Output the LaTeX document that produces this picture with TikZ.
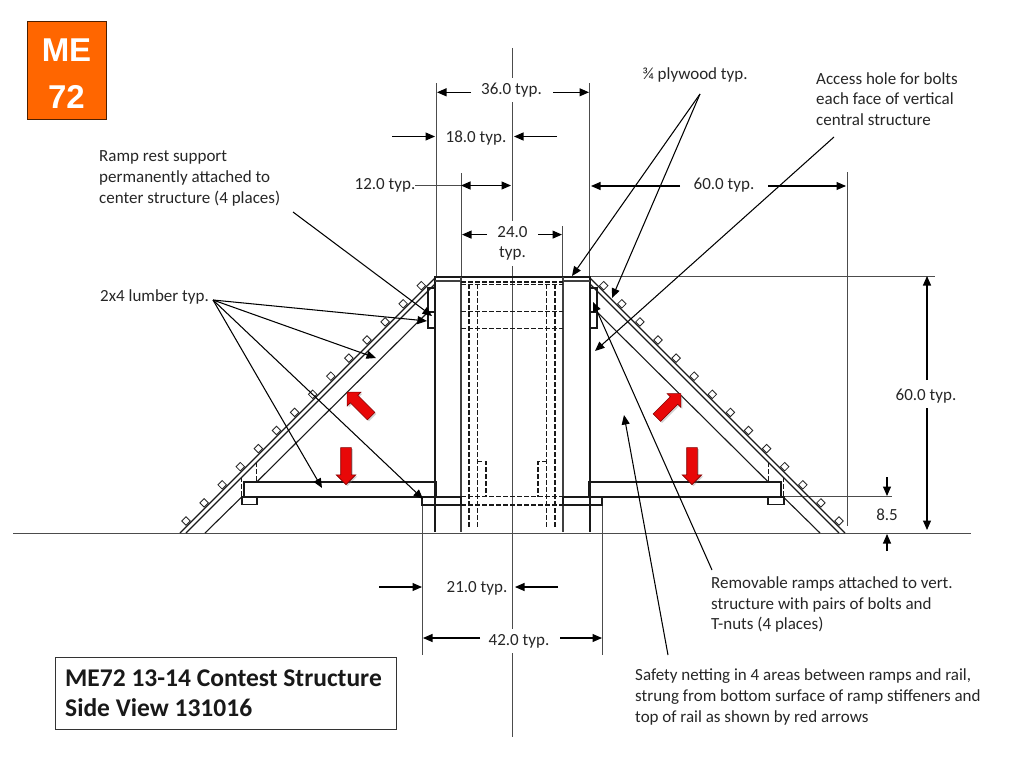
\documentclass[tikz,border=0pt]{standalone}
\usepackage{fontspec}
\setmainfont{Carlito}
\newfontfamily\mefont{Liberation Sans}
\usetikzlibrary{arrows.meta,shapes.arrows,shadows}
\definecolor{meorange}{RGB}{255,102,0}
\definecolor{arrowred}{RGB}{232,8,8}
\tikzset{
  lab/.style={font=\fontsize{17}{20.6}\selectfont,align=left,inner sep=0pt,text=black!85},
  dimlab/.style={lab,align=center,fill=white,inner xsep=6pt,inner ysep=5pt},
  part/.style={draw=black!90,line width=1.1pt},
  wall/.style={draw=black!75,line width=1.5pt},
  hidden/.style={draw=black!90,line width=1.2pt,dash pattern=on 4.5pt off 2.5pt},
  guide/.style={draw=black!70,line width=0.75pt},
  dimarrow/.style={->,draw=black,line width=1.05pt},
  leader/.style={->,draw=black,line width=1.05pt},
  lumber/.style={draw=black!85,fill=white,line width=0.8pt,rectangle,minimum size=6pt,inner sep=0pt,rotate=45},
  redarrow/.style={single arrow,draw=red!50!black,fill=arrowred,line width=0.6pt,minimum width=19pt,minimum height=37pt,
    inner sep=5pt,single arrow head extend=4.5pt,drop shadow={shadow xshift=1.5pt,shadow yshift=-1.5pt,opacity=0.35}}
}
\begin{document}
\begin{tikzpicture}[x=1pt,y=-1pt,>={Triangle[length=9.5pt,width=8pt]}]
    \useasboundingbox (0,0) rectangle (1024,768);
    % guide lines
    \coordinate (ca) at (512.5,48);
    \coordinate (cb) at (512.5,737);
    \draw [guide] (ca) -- (cb);
    \draw [guide] (13,533.5) -- (971,533.5);
    \draw [guide] (436,83) -- (436,277);
    \draw [guide] (589.5,83) -- (589.5,277);
    \draw [guide] (461,173) -- (461,277);
    \draw [guide] (562.5,226) -- (562.5,277);
    \draw [guide] (847,172) -- (847,526);
    \draw [guide] (590,276) -- (935,276);
    \draw [guide] (784,496.5) -- (892,496.5);
    \draw [guide] (422,505) -- (422,655);
    \draw [guide] (602,505) -- (602,655);
    % center structure
    \draw [part] (435,532) -- (435,277) -- (590,277) -- (590,532);
    \draw [wall] (461,277) -- (461,532);
    \draw [wall] (563,277) -- (563,532);
    \draw [wall] (435,281) -- (461,281);
    \draw [wall] (563,281) -- (590,281);
    % hidden lines
    \draw [hidden] (461,282) -- (563,282);
    \draw [hidden] (461,284.5) -- (563,284.5);
    \draw [hidden] (461,311.7) -- (563,311.7);
    \draw [hidden] (461,328.7) -- (563,328.7);
    \draw [hidden] (461,496.7) -- (563,496.7);
    \draw [hidden] (461,505) -- (563,505);
    \draw [hidden] (469,284) -- (469,528);
    \draw [hidden] (477.7,284) -- (477.7,528);
    \draw [hidden] (546.7,284) -- (546.7,528);
    \draw [hidden] (555,284) -- (555,528);
    \draw [hidden] (477.7,461.7) -- (486,461.7) -- (486,496.7);
    \draw [hidden] (546.7,461.7) -- (538,461.7) -- (538,496.7);
    \draw [hidden] (241.7,477) -- (241.7,497);
    \draw [hidden] (256.7,462) -- (256.7,482);
    \draw [hidden] (783.3,477) -- (783.3,497);
    \draw [hidden] (768.3,462) -- (768.3,482);
    % ramps
    \draw [part] (180,533) -- (436,277);
    \draw [part] (186,533) -- (435,284);
    \draw [part] (205,533) -- (241.7,497);
    \draw [part] (256.7,482) -- (428,312);
    \draw [part] (845,533) -- (589,277);
    \draw [part] (839,533) -- (590,284);
    \draw [part] (820,533) -- (783.3,497);
    \draw [part] (768.3,482) -- (597,312);
    \foreach \i in {0,...,13} {
      \node[lumber] (ll\i) at (186+18.1*\i,521-18.1*\i) {};
      \node[lumber] (lr\i) at (839-18.1*\i,521-18.1*\i) {};
    }
    % rails, feet and rests
    \draw [part] (244,482) rectangle (436.5,497);
    \draw [part] (589,482) rectangle (781,497);
    \draw [part] (422,497) rectangle (461,505);
    \draw [part] (563,497) rectangle (602,505);
    \draw [part] (242,497) rectangle (257,504.5);
    \draw [part] (768,497) rectangle (784,504.5);
    \draw [part] (428,288) rectangle (435,312);
    \draw [part] (428,312) rectangle (435,328);
    \draw [part] (590,288) rectangle (597,312);
    \draw [part] (590,312) rectangle (597,328);
    % red arrows
    \node[redarrow,rotate=-90] (downl) at (346,463.5) {};
    \node[redarrow,rotate=-90] (downr) at (692,463.5) {};
    \node[redarrow,rotate=135,minimum height=34pt] (upl) at (361,406) {};
    \node[redarrow,rotate=45,minimum height=34pt] (upr) at (667,407.5) {};
    % dimensions
    \node[dimlab] (d36) at (511.5,90) {36.0 typ.};
    \node[lab] (d18) at (476,138) {18.0 typ.};
    \node[lab] (d12) at (385,185) {12.0 typ.};
    \node[dimlab] (d24) at (512.5,243.5) {24.0\\typ.};
    \node[lab] (d60a) at (724,185.5) {60.0 typ.};
    \node[lab] (d60b) at (926,396) {60.0 typ.};
    \node[lab] (d85) at (887,515) {8.5};
    \node[lab] (d21) at (477,588.5) {21.0 typ.};
    \node[dimlab] (d42) at (519,641) {42.0 typ.};
    \coordinate (a1) at (471,92.3);   \coordinate (a2) at (437,92.3);
    \coordinate (a3) at (553,92.3);   \coordinate (a4) at (589,92.3);
    \coordinate (b1) at (392,136.5);  \coordinate (b2) at (435,136.5);
    \coordinate (b3) at (557,136.5);  \coordinate (b4) at (514,136.5);
    \coordinate (c0) at (415,185.5);
    \coordinate (c1) at (461,185.5);  \coordinate (c2) at (511,185.5);
    \coordinate (e1) at (487,234.6);  \coordinate (e2) at (462,234.6);
    \coordinate (e3) at (538,234.6);  \coordinate (e4) at (562,234.6);
    \coordinate (f1) at (680,186);    \coordinate (f2) at (591,186);
    \coordinate (f3) at (768,186);    \coordinate (f4) at (846,186);
    \coordinate (g1) at (927,380);    \coordinate (g2) at (927,276);
    \coordinate (g3) at (927,408);    \coordinate (g4) at (927,530);
    \coordinate (h1) at (887,477);    \coordinate (h2) at (887,496);
    \coordinate (h3) at (887,551);    \coordinate (h4) at (887,534);
    \coordinate (i1) at (379,587);    \coordinate (i2) at (422,587);
    \coordinate (i3) at (558,587);    \coordinate (i4) at (515,587);
    \coordinate (j1) at (480,638);    \coordinate (j2) at (423,638);
    \coordinate (j3) at (560,638);    \coordinate (j4) at (602,638);
    \draw [dimarrow] (a1) -- (a2);
    \draw [dimarrow] (a3) -- (a4);
    \draw [dimarrow] (b1) -- (b2);
    \draw [dimarrow] (b3) -- (b4);
    \draw [guide] (c0) -- (c1);
    \draw [dimarrow,<->] (c1) -- (c2);
    \draw [dimarrow] (e1) -- (e2);
    \draw [dimarrow] (e3) -- (e4);
    \draw [dimarrow] (f1) -- (f2);
    \draw [dimarrow] (f3) -- (f4);
    \draw [dimarrow] (g1) -- (g2);
    \draw [dimarrow] (g3) -- (g4);
    \draw [dimarrow] (h1) -- (h2);
    \draw [dimarrow] (h3) -- (h4);
    \draw [dimarrow] (i1) -- (i2);
    \draw [dimarrow] (i3) -- (i4);
    \draw [dimarrow] (j1) -- (j2);
    \draw [dimarrow] (j3) -- (j4);
    % notes
    \node[lab,anchor=west] (rest) at (99,178.5) {Ramp rest support\\permanently attached to\\center structure (4 places)};
    \node[lab,anchor=west] (lumb) at (100,296.5) {2x4 lumber typ.};
    \node[lab] (ply) at (695,74.5) {¾ plywood typ.};
    \node[lab,anchor=west] (hole) at (816,99) {Access hole for bolts\\each face of vertical\\central structure};
    \node[lab,anchor=west] (ramps) at (711,604.5) {Removable ramps attached to vert.\\structure with pairs of bolts and\\T-nuts (4 places)};
    \node[lab,anchor=west] (net) at (635,697) {Safety netting in 4 areas between ramps and rail,\\strung from bottom surface of ramp stiffeners and\\top of rail as shown by red arrows};
    \coordinate (k0) at (293,212);    \coordinate (k1) at (432,316);
    \coordinate (m0) at (213,300);    \coordinate (m1) at (427,321);
    \coordinate (m2) at (376,358);    \coordinate (m3) at (322,488);
    \coordinate (m4) at (423,499);
    \coordinate (n0) at (700,94);     \coordinate (n1) at (572,276);
    \coordinate (n2) at (612,298);
    \coordinate (o0) at (834,137);    \coordinate (o1) at (595,351);
    \coordinate (p0) at (712,570);    \coordinate (p1) at (593,302);
    \coordinate (q0) at (668,655);    \coordinate (q1) at (624,415);
    \draw [leader] (k0) -- (k1);
    \draw [leader] (m0) -- (m1);
    \draw [leader] (m0) -- (m2);
    \draw [leader] (m0) -- (m3);
    \draw [leader] (m0) -- (m4);
    \draw [leader] (n0) -- (n1);
    \draw [leader] (n0) -- (n2);
    \draw [leader] (o0) -- (o1);
    \draw [leader] (p0) -- (p1);
    \draw [leader] (q0) -- (q1);
    % title boxes
    \node[draw=black!80,line width=0.8pt,fill=white,minimum width=341pt,minimum height=72pt,inner sep=0pt] (title) at (225.5,693) {};
    \node[anchor=west,align=left,inner sep=0pt,font=\fontsize{25.5}{30}\selectfont\bfseries,text=black!90] (titletxt) at (65,693.5) {ME72 13-14 Contest Structure\\Side View 131016};
    \node[draw=black!70!meorange,line width=0.8pt,fill=meorange,minimum width=79pt,minimum height=98pt,inner sep=0pt] (mebox) at (66.5,70) {};
    \node[align=center,inner sep=0pt,text=white,font=\mefont\fontsize{33}{47}\selectfont\bfseries] (me) at (66.5,74) {ME\\72};
\end{tikzpicture}
\end{document}
